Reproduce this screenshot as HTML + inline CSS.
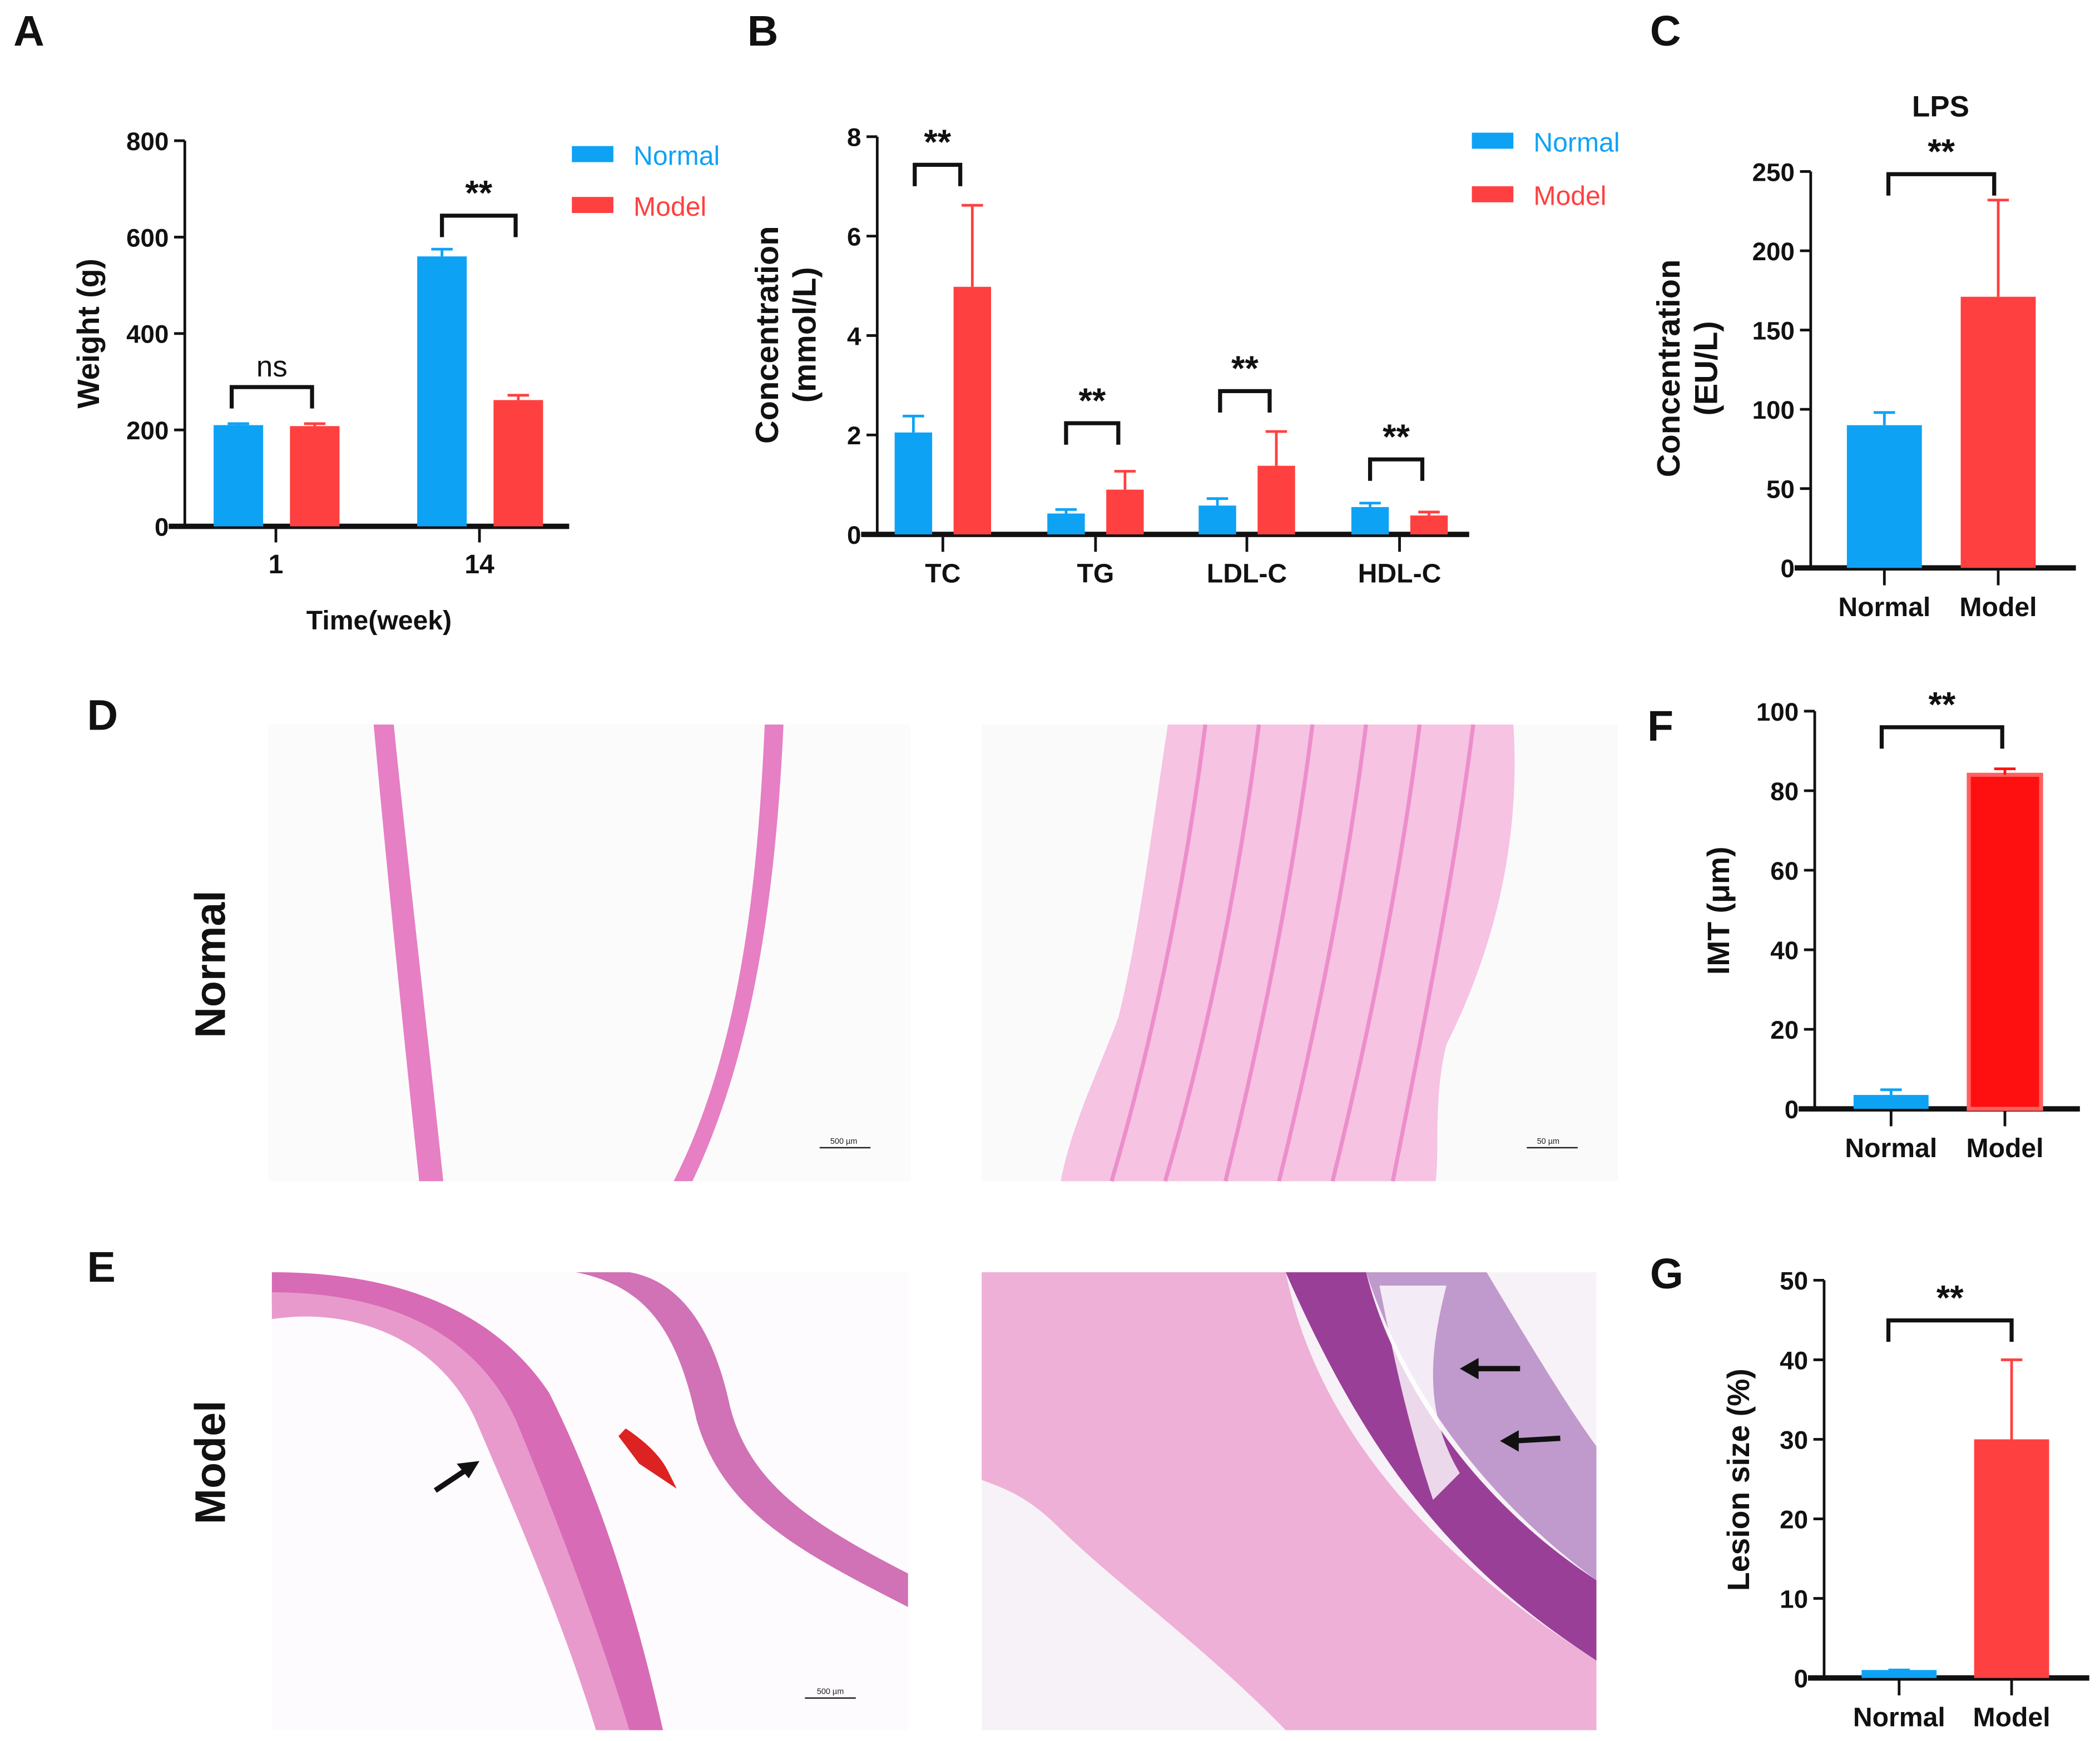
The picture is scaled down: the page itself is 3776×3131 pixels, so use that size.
<!DOCTYPE html>
<html><head><meta charset="utf-8"><style>
html,body{margin:0;padding:0;background:#fff}
svg{display:block}
text{font-family:"Liberation Sans",Arial,sans-serif}
</style></head><body>
<svg id="fig" width="3776" height="3131" viewBox="0 0 1568 1300" xmlns="http://www.w3.org/2000/svg">
<rect width="1568" height="1300" fill="#fff"/>
<g font-weight="bold" font-size="32" fill="#111">
<text x="10" y="34">A</text>
<text x="558" y="34">B</text>
<text x="1232" y="34">C</text>
<text x="65" y="545">D</text>
<text x="65" y="957">E</text>
<text x="1230" y="553">F</text>
<text x="1232" y="962">G</text>
</g>
<!-- histology -->
<g>
<rect x="200" y="541" width="480" height="341" fill="#fcfbfc"/>
<path d="M279,541 C288,640 300,760 313,882 L331,882 C318,760 304,640 294,541 Z" fill="#e67fc4"/>
<path d="M571,541 C566,650 555,780 503,882 L517,882 C566,780 580,650 585,541 Z" fill="#e67fc4"/>
<line x1="612" y1="857" x2="650" y2="857" stroke="#222" stroke-width="1"/>
<text x="630" y="854" font-size="6" text-anchor="middle" fill="#222">500 µm</text>
</g>
<g>
<rect x="733" y="541" width="475" height="341" fill="#fbfafb"/>
<path d="M872,541 L1130,541 C1135,620 1120,700 1080,780 C1070,820 1075,860 1072,882 L792,882 C800,840 820,800 835,760 C850,700 860,620 872,541 Z" fill="#f6c3e2"/>
<g stroke="#ec8ecb" stroke-width="3" fill="none">
<path d="M900,541 C885,660 860,780 830,882"/><path d="M940,541 C925,660 900,780 870,882"/>
<path d="M980,541 C965,660 940,780 915,882"/><path d="M1020,541 C1005,660 980,780 955,882"/>
<path d="M1060,541 C1045,660 1020,780 995,882"/><path d="M1100,541 C1085,660 1060,780 1040,882"/>
</g>
<line x1="1140" y1="857" x2="1178" y2="857" stroke="#222" stroke-width="1"/>
<text x="1156" y="854" font-size="6" text-anchor="middle" fill="#222">50 µm</text>
</g>
<g>
<rect x="203" y="950" width="475" height="342" fill="#fdfbfd"/>
<path d="M203,975 C260,960 330,990 370,1050 C400,1110 430,1180 460,1292 L495,1292 C470,1180 440,1100 410,1040 C370,980 300,950 203,950 Z" fill="#d86bb5"/>
<path d="M203,985 C270,975 330,1005 355,1060 C385,1130 420,1210 445,1292 L470,1292 C445,1210 410,1120 385,1060 C355,995 290,965 203,965 Z" fill="#e89acd"/>
<path d="M430,950 C480,960 505,990 520,1060 C540,1130 600,1160 678,1200 L678,1175 C610,1140 560,1110 545,1050 C530,980 500,955 470,950 Z" fill="#d072b5"/>
<path d="M465,1070 C480,1080 490,1090 495,1100 L480,1090 Z" fill="#d22" stroke="#d22" stroke-width="8"/>
<path d="M325,1113 L352,1095" stroke="#111" stroke-width="4"/><path d="M358,1091 L341,1093 L350,1104 Z" fill="#111"/>
<line x1="601" y1="1268" x2="639" y2="1268" stroke="#222" stroke-width="1"/>
<text x="620" y="1265" font-size="6" text-anchor="middle" fill="#222">500 µm</text>
</g>
<g>
<rect x="733" y="950" width="459" height="342" fill="#f7f2f7"/>
<path d="M733,950 L960,950 C980,1050 1050,1150 1192,1240 L1192,1292 L960,1292 C900,1230 830,1180 790,1140 C765,1115 745,1110 733,1105 Z" fill="#eeb0d6"/>
<path d="M960,950 L1020,950 C1040,1030 1100,1120 1192,1180 L1192,1240 C1100,1180 1030,1110 960,950 Z" fill="#9a3f98"/>
<path d="M1020,950 L1110,950 C1140,1000 1170,1050 1192,1080 L1192,1180 C1110,1120 1050,1040 1020,950 Z" fill="#c09acc"/>
<path d="M1030,960 L1080,960 C1070,1000 1060,1050 1090,1100 L1070,1120 C1050,1060 1040,1010 1030,960 Z" fill="#fff" opacity=".8"/>
<path d="M1135,1022 L1100,1022" stroke="#111" stroke-width="4"/><path d="M1090,1022 L1104,1014 L1104,1030 Z" fill="#111"/>
<path d="M1165,1074 L1130,1076" stroke="#111" stroke-width="4"/><path d="M1120,1076 L1134,1068 L1134,1084 Z" fill="#111"/>
</g>
<g font-weight="bold" font-size="32" fill="#111">
<text transform="translate(168,720) rotate(-90)" text-anchor="middle">Normal</text>
<text transform="translate(168,1092) rotate(-90)" text-anchor="middle">Model</text>
</g>
<g id="charts"></g>
</svg>
<script>
const NS="http://www.w3.org/2000/svg";
const BLUE="#0ea2f5", RED="#ff4040";
// Panel A data
const aCats=["1","14"];
const aNormal=[210,560]; const aNormalErr=[213,575];
const aModel=[208,262]; const aModelErr=[213,272];
const aTicks=[0,200,400,600,800];
// Panel B data
const bCats=["TC","TG","LDL-C","HDL-C"];
const bNormal=[2.05,0.42,0.58,0.55]; const bNormalErr=[2.38,0.5,0.72,0.63];
const bModel=[4.98,0.9,1.38,0.38]; const bModelErr=[6.62,1.27,2.07,0.45];
const bTicks=[0,2,4,6,8];
// Panel C data
const cCats=["Normal","Model"]; const cVals=[90,171]; const cErr=[98,232]; const cTicks=[0,50,100,150,200,250];
// Panel F data
const fCats=["Normal","Model"]; const fVals=[3.5,84]; const fErr=[4.8,85.5]; const fTicks=[0,20,40,60,80,100];
// Panel G data
const gCats=["Normal","Model"]; const gVals=[1,30]; const gErr=[1,40]; const gTicks=[0,10,20,30,40,50];

const root=document.getElementById('charts');
function el(tag,attrs,parent,txt){const e=document.createElementNS(NS,tag);for(const k in attrs)e.setAttribute(k,attrs[k]);if(txt!==undefined)e.textContent=txt;(parent||root).appendChild(e);return e;}
function axes(g,x0,x1,yTop,yBot,max,ticks,fs){
  const sy=v=>yBot-(v/max)*(yBot-yTop);
  el('line',{x1:x0,y1:yTop,x2:x0,y2:yBot,stroke:'#111','stroke-width':2},g);
  el('line',{x1:x0-12,y1:yBot,x2:x1,y2:yBot,stroke:'#111','stroke-width':4},g);
  ticks.forEach(t=>{
    el('line',{x1:x0-8,y1:sy(t),x2:x0,y2:sy(t),stroke:'#111','stroke-width':2},g);
    const tx=el('text',{x:x0-12,y:sy(t)+7,'text-anchor':'end','font-size':fs,'font-weight':'bold',fill:'#111'},g,t);
    
    
  });
  return sy;
}
function bar(g,cx,w,v,err,sy,col,name,stroke){
  const r=el('rect',{x:cx-w/2,y:sy(v),width:w,height:sy(0)-sy(v),fill:col},g);
  if(stroke){r.setAttribute('stroke',stroke);r.setAttribute('stroke-width',3);}
  
  
  el('line',{x1:cx,y1:sy(v),x2:cx,y2:sy(err),stroke:col,'stroke-width':2},g);
  el('line',{x1:cx-8,y1:sy(err),x2:cx+8,y2:sy(err),stroke:col,'stroke-width':2},g);
}
function bracket(g,xa,xb,y,label,fs){
  el('path',{d:`M${xa},${y+16} L${xa},${y} L${xb},${y} L${xb},${y+16}`,fill:'none',stroke:'#111','stroke-width':3},g);
  const t=el('text',{x:(xa+xb)/2,y:y-8,'text-anchor':'middle','font-size':fs||26,'font-weight':label=='ns'?'normal':'bold',fill:'#111'},g,label);
  
  
}
function ytitle(g,x,y,lines,fs){
  lines.forEach((s,i)=>{const t=el('text',{transform:`translate(${x+i*28},${y}) rotate(-90)`,'text-anchor':'middle','font-size':fs,'font-weight':'bold',fill:'#111'},g,s);
  
  });
}
function xlabel(g,x,y,s,fs){const t=el('text',{x:x,y:y,'text-anchor':'middle','font-size':fs,'font-weight':'bold',fill:'#111'},g,s);
  
  }
function legend(g,x,y,col,s){
  const r=el('rect',{x:x,y:y-6,width:31,height:12,fill:col},g);
  
  
  const t=el('text',{x:x+46,y:y+8,'font-size':20,fill:col},g,s);
  
  
}
// Panel A
{const g=el('g',{});
const sy=axes(g,138,425,105,393,800,aTicks,19);
const cx=[206,358];
aCats.forEach((c,i)=>{bar(g,cx[i]-28,37,aNormal[i],aNormalErr[i],sy,BLUE,'bar-normal-week'+c);
bar(g,cx[i]+29,37,aModel[i],aModelErr[i],sy,RED,'bar-model-week'+c);
el('line',{x1:cx[i],y1:395,x2:cx[i],y2:405,stroke:'#111','stroke-width':2},g);
xlabel(g,cx[i],428,c,20);});
const xt=el('text',{x:283,y:470,'text-anchor':'middle','font-size':20,'font-weight':'bold',fill:'#111'},g,'Time(week)');

ytitle(g,74,249,['Weight (g)'],23);
bracket(g,173,233,289,'ns',22);bracket(g,330,385,161,'**');
legend(g,427,115,BLUE,'Normal');legend(g,427,153,RED,'Model');}
// Panel B
{const g=el('g',{});
const sy=axes(g,655,1097,102,399,8,bTicks,19);
const cx=[704,818,931,1045];
bCats.forEach((c,i)=>{bar(g,cx[i]-22,28,bNormal[i],bNormalErr[i],sy,BLUE,'bar-normal-'+c);
bar(g,cx[i]+22,28,bModel[i],bModelErr[i],sy,RED,'bar-model-'+c);
el('line',{x1:cx[i],y1:401,x2:cx[i],y2:412,stroke:'#111','stroke-width':2},g);
xlabel(g,cx[i],435,c,20);});
ytitle(g,581,250,['Concentration','(mmol/L)'],24);
bracket(g,683,717,123,'**');bracket(g,796,835,316,'**');bracket(g,911,948,292,'**');bracket(g,1023,1062,343,'**');
legend(g,1099,105,BLUE,'Normal');legend(g,1099,145,RED,'Model');}
// Panel C
{const g=el('g',{});
const t=el('text',{x:1449,y:87,'text-anchor':'middle','font-size':22,'font-weight':'bold',fill:'#111'},g,'LPS');

const sy=axes(g,1352,1550,128,424,250,cTicks,19);
const cx=[1407,1492];const cols=[BLUE,RED];
cCats.forEach((c,i)=>{bar(g,cx[i],56,cVals[i],cErr[i],sy,cols[i],'bar-lps-'+c.toLowerCase());
el('line',{x1:cx[i],y1:426,x2:cx[i],y2:437,stroke:'#111','stroke-width':2},g);xlabel(g,cx[i],460,c,20);});
ytitle(g,1254,275,['Concentration','(EU/L)'],24);
bracket(g,1410,1489,130,'**');}
// Panel F
{const g=el('g',{});
const sy=axes(g,1355,1553,531,828,100,fTicks,19);
const cx=[1412,1497];
bar(g,cx[0],56,fVals[0],fErr[0],sy,BLUE,'bar-imt-normal');
bar(g,cx[1],54,fVals[1],fErr[1],sy,'#ff1010','bar-imt-model','#ff6060');
fCats.forEach((c,i)=>{el('line',{x1:cx[i],y1:830,x2:cx[i],y2:841,stroke:'#111','stroke-width':2},g);xlabel(g,cx[i],864,c,20);});
ytitle(g,1291,680,['IMT (μm)'],23);
bracket(g,1405,1495,543,'**');}
// Panel G
{const g=el('g',{});
const sy=axes(g,1362,1560,956,1253,50,gTicks,19);
const cx=[1418,1502];const cols=[BLUE,RED];
gCats.forEach((c,i)=>{bar(g,cx[i],56,gVals[i],gErr[i],sy,cols[i],'bar-lesion-'+c.toLowerCase());
el('line',{x1:cx[i],y1:1255,x2:cx[i],y2:1266,stroke:'#111','stroke-width':2},g);xlabel(g,cx[i],1289,c,20);});
ytitle(g,1306,1105,['Lesion size (%)'],23);
bracket(g,1410,1502,986,'**');}
</script>
</body></html>
